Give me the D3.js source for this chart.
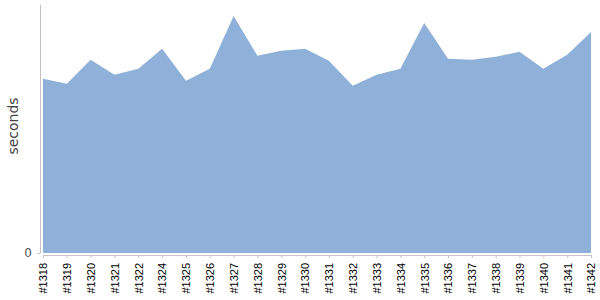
<!DOCTYPE html>
<html>
<head>
<meta charset="utf-8">
<script src="https://cdn.jsdelivr.net/npm/d3@7"></script>
<style>
  body { margin: 0; background: #fff; }
  svg { display: block; font-family: "Liberation Sans", Arial, sans-serif; }
</style>
</head>
<body>
<svg width="600" height="300"></svg>
<script>
let builds = ["#1318", "#1319", "#1320", "#1321", "#1322", "#1324", "#1325", "#1326",
    "#1327", "#1328", "#1329", "#1330", "#1331", "#1332", "#1333", "#1334",
    "#1335", "#1336", "#1337", "#1338", "#1339", "#1340", "#1341", "#1342"]
let seconds = [175, 170, 194, 179, 185, 205, 173, 185,
    238, 198, 203, 205, 193, 168, 179, 185,
    231, 195, 194, 197, 202, 185, 199, 222]
let yTicks = [0]

let width = 600
let height = 300
let margin = { top: 4, right: 9, bottom: 47, left: 43 }

let svg = d3.select("svg")

let data = builds.map((b, i) => ({ build: b, value: seconds[i] }))

let x = d3.scalePoint()
    .domain(builds)
    .range([margin.left, width - margin.right])

let y = d3.scaleLinear()
    .domain([0, 250])
    .range([height - margin.bottom, margin.top])

let area = d3.area()
    .x(d => x(d.build))
    .y0(y(0))
    .y1(d => y(d.value))

svg.append("path")
    .datum(data)
    .attr("d", area)
    .style("fill", "#8fb1d9")

// y axis
let yAxis = svg.append("g")
    .attr("transform", `translate(40,0)`)
    .call(d3.axisLeft(y).tickValues(yTicks).tickSize(3).tickPadding(5).tickSizeOuter(0))
yAxis.select(".domain").style("stroke", "#c4c4c4")
yAxis.selectAll(".tick line").style("stroke", "#c4c4c4")
yAxis.selectAll(".tick text")
    .style("font-family", "'DejaVu Sans', sans-serif")
    .style("font-size", "12px")
    .style("fill", "#555")

// x axis
let xAxis = svg.append("g")
    .attr("transform", `translate(0,${y(0) + 2})`)
    .call(d3.axisBottom(x).tickSize(3).tickPadding(4).tickSizeOuter(0))
xAxis.select(".domain").style("stroke", "#c4c4c4")
xAxis.selectAll(".tick line").style("stroke", "#c4c4c4")
xAxis.selectAll(".tick text")
    .attr("transform", "rotate(-90)")
    .attr("x", -8)
    .attr("y", 0)
    .attr("dy", "0.35em")
    .style("text-anchor", "end")
    .style("font-size", "11px")
    .style("fill", "#000")

svg.append("text")
    .attr("transform", `translate(18,126) rotate(-90)`)
    .style("text-anchor", "middle")
    .style("font-family", "'DejaVu Sans', sans-serif")
    .style("font-size", "14px")
    .style("fill", "#444")
    .text("seconds")
</script>
</body>
</html>
